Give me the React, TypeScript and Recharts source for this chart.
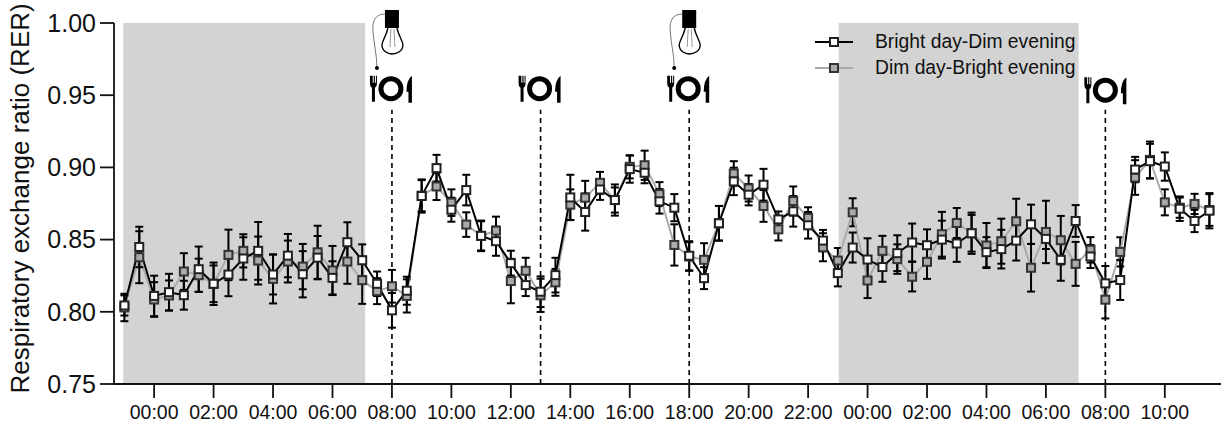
import React from "react";
import {
  LineChart,
  Line,
  XAxis,
  YAxis,
  ErrorBar,
  ReferenceArea,
  ReferenceLine,
  ReferenceDot,
  Legend,
} from "recharts";

const hours = [
  -1, -0.5, 0, 0.5, 1, 1.5, 2, 2.5, 3, 3.5, 4, 4.5, 5, 5.5, 6, 6.5, 7, 7.5, 8, 8.5,
  9, 9.5, 10, 10.5, 11, 11.5, 12, 12.5, 13, 13.5, 14, 14.5, 15, 15.5, 16, 16.5, 17, 17.5, 18, 18.5,
  19, 19.5, 20, 20.5, 21, 21.5, 22, 22.5, 23, 23.5, 24, 24.5, 25, 25.5, 26, 26.5, 27, 27.5, 28, 28.5,
  29, 29.5, 30, 30.5, 31, 31.5, 32, 32.5, 33, 33.5, 34, 34.5, 35, 35.5,
];

const brightDay = [
  0.8044, 0.8449, 0.811, 0.8136, 0.8115, 0.8295, 0.8194, 0.8258, 0.8369, 0.8422,
  0.8258, 0.8389, 0.826, 0.8375, 0.8235, 0.8482, 0.8357, 0.8194, 0.801, 0.8146,
  0.8802, 0.8995, 0.8707, 0.8843, 0.8526, 0.8489, 0.8337, 0.8185, 0.8139, 0.8254,
  0.8792, 0.8691, 0.8847, 0.8774, 0.8988, 0.8963, 0.8765, 0.8721, 0.8388, 0.8233,
  0.8613, 0.8903, 0.8811, 0.888, 0.864, 0.8696, 0.8599, 0.8493, 0.8268, 0.8445,
  0.8362, 0.831, 0.8406, 0.848, 0.8461, 0.85, 0.8473, 0.8544, 0.8413, 0.8434,
  0.8493, 0.8606, 0.8505, 0.836, 0.8629, 0.8383, 0.8197, 0.822, 0.8985, 0.9043,
  0.9006, 0.8714, 0.8629, 0.87,
];

const brightDayErr = [
  0.007, 0.014, 0.014, 0.0127, 0.01, 0.0157, 0.0147, 0.015, 0.0147, 0.02,
  0.0138, 0.015, 0.016, 0.015, 0.0115, 0.0138, 0.011, 0.0085, 0.012, 0.0097,
  0.0115, 0.0092, 0.0083, 0.0106, 0.0101, 0.0101, 0.0086, 0.0076, 0.0106, 0.012,
  0.0157, 0.0129, 0.0072, 0.0108, 0.0094, 0.0073, 0.0085, 0.0094, 0.0101, 0.0076,
  0.012, 0.0095, 0.0074, 0.011, 0.0055, 0.0106, 0.0092, 0.0074, 0.0092, 0.0104,
  0.0147, 0.0102, 0.0124, 0.0131, 0.011, 0.0131, 0.0127, 0.0143, 0.0104, 0.0134,
  0.0138, 0.0136, 0.007, 0.0145, 0.011, 0.008, 0.012, 0.0138, 0.0088, 0.012,
  0.0098, 0.0085, 0.0077, 0.0122,
];

const dimDay = [
  0.803, 0.8378, 0.8085, 0.8113, 0.8279, 0.8253, 0.8194, 0.8394, 0.8422, 0.8355,
  0.8228, 0.8348, 0.8313, 0.8412, 0.8286, 0.8348, 0.8219, 0.8143, 0.8177, 0.811,
  0.8804, 0.8868, 0.8756, 0.8604, 0.8526, 0.8562, 0.8213, 0.8284, 0.8114, 0.8204,
  0.8742, 0.879, 0.8893, 0.8774, 0.9004, 0.9015, 0.8815, 0.8463, 0.8383, 0.836,
  0.8613, 0.8958, 0.8854, 0.8733, 0.8571, 0.8767, 0.865, 0.8447, 0.8355, 0.8689,
  0.8217, 0.8422, 0.8365, 0.8243, 0.8346, 0.8537, 0.8615, 0.8544, 0.8459, 0.8489,
  0.8627, 0.8305, 0.8553, 0.8496, 0.8332, 0.8429, 0.8084, 0.8415, 0.893, 0.9052,
  0.8758, 0.8721, 0.8747, 0.8705,
];

const dimDayErr = [
  0.0095, 0.018, 0.012, 0.0104, 0.0127, 0.0115, 0.0127, 0.0175, 0.0115, 0.0166,
  0.017, 0.0145, 0.0157, 0.0184, 0.017, 0.0154, 0.0164, 0.009, 0.0113, 0.0115,
  0.0108, 0.0094, 0.0092, 0.0085, 0.0106, 0.0097, 0.0154, 0.009, 0.0115, 0.0093,
  0.0106, 0.0117, 0.0076, 0.0087, 0.008, 0.0101, 0.0083, 0.0143, 0.0099, 0.0115,
  0.012, 0.0085, 0.009, 0.011, 0.0077, 0.0101, 0.0074, 0.0097, 0.0087, 0.0097,
  0.0122, 0.0104, 0.0102, 0.0102, 0.0118, 0.0155, 0.0104, 0.0127, 0.0156, 0.0156,
  0.0156, 0.0165, 0.0216, 0.0168, 0.0152, 0.0088, 0.013, 0.0101, 0.012, 0.0127,
  0.009, 0.007, 0.007, 0.011,
];

const xTicks = [0, 2, 4, 6, 8, 10, 12, 14, 16, 18, 20, 22, 24, 26, 28, 30, 32, 34];
const xLabels = [
  "00:00", "02:00", "04:00", "06:00", "08:00", "10:00", "12:00", "14:00", "16:00",
  "18:00", "20:00", "22:00", "00:00", "02:00", "04:00", "06:00", "08:00", "10:00",
];
const yTicks = [0.75, 0.8, 0.85, 0.9, 0.95, 1.0];

const darkPeriods = [
  [-1.04, 7.1],
  [23.03, 31.1],
];
const mealHours = [8, 13, 18, 32];
const lightHours = [8, 18];

const chartData = hours.map((hour, i) => ({
  hour,
  bright: brightDay[i],
  brightErr: brightDayErr[i],
  dim: dimDay[i],
  dimErr: dimDayErr[i],
}));

const FONT = "'Liberation Sans', Arial, sans-serif";

const squareDot = (fill: string, stroke: string) => (props: any) => {
  const { cx, cy, index } = props;
  return (
    <rect key={index} x={cx - 4} y={cy - 4} width={8} height={8} fill={fill} stroke={stroke} strokeWidth={2} />
  );
};

const MealIcon = ({ cx, cy }: any) => (
  <g>
    <circle cx={cx} cy={cy} r={10} fill="none" stroke="#000" strokeWidth={5} />
    <path
      d={`M${cx - 21} ${cy - 13} v7 q0 4 2 5 v14 h3 v-14 q2 -1 2 -5 v-7 h-1 v7 h-1 v-7 h-1.2 v7 h-1 v-7 z`}
      fill="#000"
    />
    <path d={`M${cx + 21} ${cy - 13} v27 h-3.5 v-11 h-2 q0 -12 5.5 -16 z`} fill="#000" />
  </g>
);

const BulbIcon = ({ cx, cy }: any) => (
  <g>
    <rect x={cx - 7} y={cy - 13} width={14} height={18} fill="#000" />
    <path
      d={`M${cx - 4} ${cy + 5} C${cx - 6} ${cy + 14} ${cx - 10} ${cy + 18} ${cx - 10} ${cy + 22} C${cx - 10} ${cy + 28} ${cx - 4} ${cy + 31} ${cx} ${cy + 31} C${cx + 5} ${cy + 31} ${cx + 11} ${cy + 28} ${cx + 11} ${cy + 22} C${cx + 11} ${cy + 18} ${cx + 7} ${cy + 14} ${cx + 5} ${cy + 5}`}
      fill="none"
      stroke="#000"
      strokeWidth={1.4}
    />
    <path d={`M${cx - 1} ${cy + 6} L${cx - 2} ${cy + 24} M${cx + 2} ${cy + 6} L${cx + 3} ${cy + 24}`} stroke="#999" strokeWidth={1} />
    <path
      d={`M${cx - 7} ${cy - 9} C${cx - 15} ${cy - 9} ${cx - 20} ${cy - 4} ${cx - 19} ${cy + 8} C${cx - 18} ${cy + 22} ${cx - 15} ${cy + 32} ${cx - 15} ${cy + 45}`}
      fill="none"
      stroke="#555"
      strokeWidth={0.8}
    />
    <circle cx={cx - 15} cy={cy + 45} r={2} fill="#000" />
  </g>
);

const legendRows = [
  { label: "Bright day-Dim evening", line: "#000", fill: "#fff", stroke: "#222" },
  { label: "Dim day-Bright evening", line: "#aaa", fill: "#aaa", stroke: "#333" },
];

const LegendBox = () => (
  <div style={{ fontFamily: FONT, fontSize: 19.3, color: "#111", lineHeight: "26px" }}>
    {legendRows.map((row) => (
      <div key={row.label} style={{ display: "flex", alignItems: "center", height: 26 }}>
        <svg width={60} height={26}>
          <line x1={0} x2={38} y1={13} y2={13} stroke={row.line} strokeWidth={2} />
          <rect x={15} y={9} width={8} height={8} fill={row.fill} stroke={row.stroke} strokeWidth={2} />
        </svg>
        <span style={{ whiteSpace: "nowrap" }}>{row.label}</span>
      </div>
    ))}
  </div>
);

const App = () => {
  return (
    <div style={{ position: "absolute", left: 0, top: 0, width: 1225, height: 427, background: "#fff" }}>
      <LineChart
        width={1225}
        height={427}
        data={chartData}
        margin={{ top: 23, right: 4, bottom: 0, left: 10 }}
      >
        <XAxis
          type="number"
          dataKey="hour"
          domain={[-1.35, 35.89]}
          ticks={xTicks}
          tickFormatter={(v: number) => xLabels[xTicks.indexOf(v)]}
          height={43}
          tickSize={14}
          tickMargin={7}
          allowDataOverflow
          stroke="#111"
          strokeWidth={1.8}
          tick={{ fontFamily: FONT, fontSize: 19.5, fill: "#111" }}
        />
        <YAxis
          type="number"
          domain={[0.75, 1.0]}
          ticks={yTicks}
          tickFormatter={(v: number) => v.toFixed(2)}
          width={104}
          tickSize={14}
          tickMargin={4}
          stroke="#111"
          strokeWidth={1.8}
          tick={{ fontFamily: FONT, fontSize: 25, fill: "#111" }}
          label={{
            value: "Respiratory exchange ratio (RER)",
            angle: -90,
            position: "insideLeft",
            dx: 5,
            dy: 190,
            style: { fontFamily: FONT, fontSize: 26, fill: "#111" },
          }}
        />
        {darkPeriods.map(([start, end]) => (
          <ReferenceArea key={start} x1={start} x2={end} y1={0.75} y2={1.0} fill="#d3d3d3" fillOpacity={1} stroke="none" />
        ))}
        {mealHours.map((h) => (
          <ReferenceLine
            key={h}
            segment={[
              { x: h, y: 0.75 },
              { x: h, y: 0.94 },
            ]}
            stroke="#000"
            strokeWidth={1.6}
            strokeDasharray="5 4"
          />
        ))}
        <Line
          type="linear"
          dataKey="dim"
          stroke="#aaa"
          strokeWidth={2}
          dot={squareDot("#aaa", "#333")}
          isAnimationActive={false}
        >
          <ErrorBar dataKey="dimErr" direction="y" width={4} stroke="#000" strokeWidth={2} isAnimationActive={false} />
        </Line>
        <Line
          type="linear"
          dataKey="bright"
          stroke="#000"
          strokeWidth={2}
          dot={squareDot("#fff", "#222")}
          isAnimationActive={false}
        >
          <ErrorBar dataKey="brightErr" direction="y" width={4} stroke="#000" strokeWidth={2} isAnimationActive={false} />
        </Line>
        {mealHours.map((h) => (
          <ReferenceDot
            key={h}
            x={h}
            y={h === 32 ? 0.9535 : 0.9545}
            shape={(p: any) => <MealIcon cx={p.cx - (h === 32 ? 0 : 1)} cy={p.cy} />}
          />
        ))}
        {lightHours.map((h) => (
          <ReferenceDot key={h} x={h} y={1.0} shape={(p: any) => <BulbIcon cx={p.cx} cy={p.cy} />} />
        ))}
        <Legend
          content={<LegendBox />}
          wrapperStyle={{ position: "absolute", left: 815, top: 29, width: 280, height: 0, bottom: "auto" }}
        />
      </LineChart>
    </div>
  );
};

export default App;
